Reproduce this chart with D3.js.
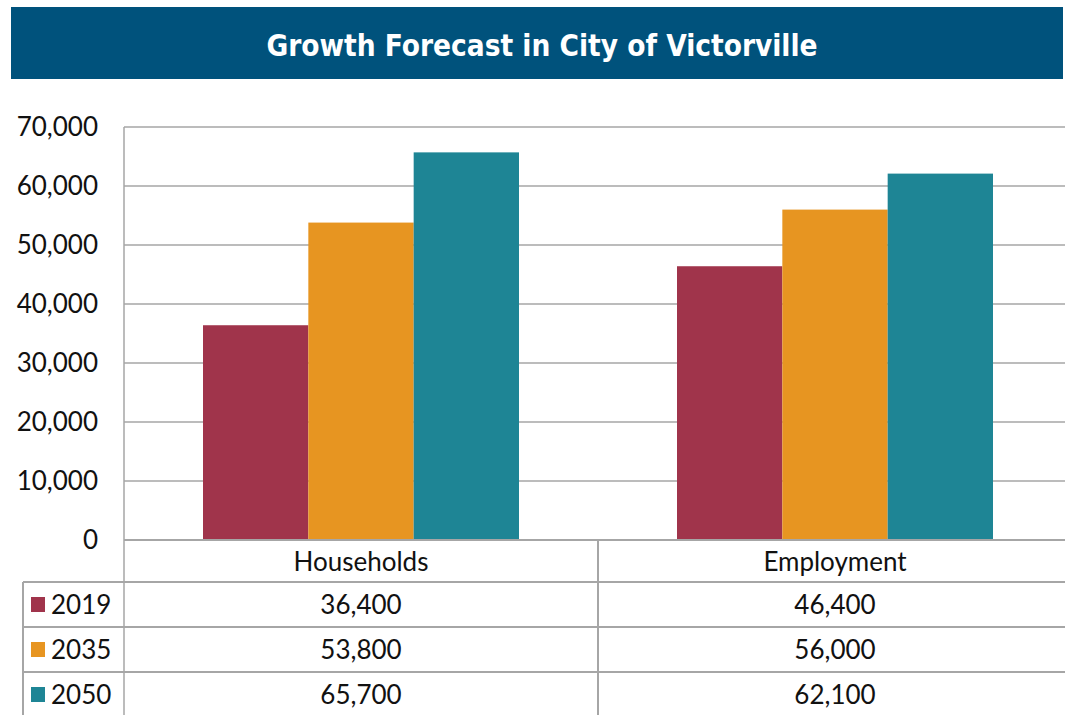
<!DOCTYPE html>
<html>
<head>
<meta charset="utf-8">
<script src="https://cdn.jsdelivr.net/npm/d3@7"></script>
<style>
  body { margin: 0; background: #fff; }
  text { font-family: "Lato", "Open Sans", sans-serif; fill: #111; }
</style>
</head>
<body>
<div id="chart"></div>
<script>
const categories = ['Households', 'Employment']
const years = ['2019', '2035', '2050']
const values2019 = [36400, 46400]
const values2035 = [53800, 56000]
const values2050 = [65700, 62100]
const yTicks = [0, 10000, 20000, 30000, 40000, 50000, 60000, 70000]
const colors = ['#a0344b', '#e79521', '#1e8595']

const series = [values2019, values2035, values2050]

const width = 1065, height = 715
const margin = {left: 124, top: 127, bottom: 175}
const plotBottom = height - margin.bottom   // y = 540
const gridColor = '#a6a6a6'
const fontSize = '26px'

const svg = d3.select('#chart').append('svg')
.attr('width', width)
.attr('height', height)

// title banner
svg.append('rect')
.attr('x', 11).attr('y', 7)
.attr('width', 1052).attr('height', 72)
.attr('fill', '#00527c')

svg.append('text')
.attr('x', 542).attr('y', 56)
.attr('text-anchor', 'middle')
.attr('textLength', 551)
.attr('lengthAdjust', 'spacingAndGlyphs')
.style('font-family', '"DejaVu Sans Condensed", "DejaVu Sans", sans-serif')
.style('font-weight', 'bold')
.style('font-size', '31px')
.style('fill', '#fff')
.text('Growth Forecast in City of Victorville')

// category bands run past the right edge, as in the original
let x0 = d3.scaleBand()
.domain(categories)
.range([margin.left, 1072])

let x1 = d3.scaleBand()
.domain(years)
.range([0, 316])

let yScale = d3.scaleLinear()
.domain([0, 70000])
.range([plotBottom, margin.top])

// gridlines
svg.append('g')
.selectAll('line')
.data(yTicks.slice(1))
.join('line')
.attr('x1', margin.left).attr('x2', width)
.attr('y1', d => yScale(d)).attr('y2', d => yScale(d))
.attr('stroke', gridColor).attr('stroke-width', 1.5)

// y axis line
svg.append('line')
.attr('x1', margin.left).attr('x2', margin.left)
.attr('y1', margin.top).attr('y2', height)
.attr('stroke', gridColor).attr('stroke-width', 1.5)

// y tick labels
svg.append('g')
.selectAll('text')
.data(yTicks)
.join('text')
.attr('x', 98)
.attr('y', d => yScale(d))
.attr('dy', '0.36em')
.attr('text-anchor', 'end')
.style('font-size', fontSize)
.text(d => d3.format(',')(d))

// bars
const groups = svg.append('g')
.selectAll('g')
.data(categories)
.join('g')
.attr('transform', d => `translate(${x0(d) + (x0.bandwidth() - 316) / 2},0)`)

groups.selectAll('rect')
.data((c, ci) => years.map((y, yi) => ({year: y, value: series[yi][ci], i: yi})))
.join('rect')
.attr('x', d => x1(d.year))
.attr('width', x1.bandwidth())
.attr('y', d => yScale(d.value))
.attr('height', d => plotBottom - yScale(d.value))
.attr('fill', d => colors[d.i])

// data table
const rowH = 45
const headerBottom = 582
const table = svg.append('g')

table.append('line')
.attr('x1', margin.left).attr('x2', width)
.attr('y1', plotBottom).attr('y2', plotBottom)
.attr('stroke', gridColor).attr('stroke-width', 2)

categories.slice(1).forEach(c => {
	table.append('line')
	.attr('x1', x0(c)).attr('x2', x0(c))
	.attr('y1', plotBottom).attr('y2', height)
	.attr('stroke', gridColor).attr('stroke-width', 2)
})

years.forEach((y, i) => {
	let top = headerBottom + i * rowH
	table.append('line')
	.attr('x1', 23).attr('x2', width)
	.attr('y1', top).attr('y2', top)
	.attr('stroke', gridColor).attr('stroke-width', 2)
})

table.append('line')
.attr('x1', 23).attr('x2', 23)
.attr('y1', headerBottom).attr('y2', height)
.attr('stroke', gridColor).attr('stroke-width', 2)

table.selectAll('.header')
.data(categories)
.join('text')
.attr('class', 'header')
.attr('x', d => x0(d) + x0.bandwidth() / 2)
.attr('y', 571)
.attr('text-anchor', 'middle')
.style('font-size', fontSize)
.text(d => d)

years.forEach((y, i) => {
	let mid = headerBottom + i * rowH + rowH / 2

	table.append('rect')
	.attr('x', 31).attr('y', mid - 7.5)
	.attr('width', 14).attr('height', 15)
	.attr('fill', colors[i])

	table.append('text')
	.attr('x', 51).attr('y', mid + 9.5)
	.style('font-size', fontSize)
	.text(y)

	categories.forEach((c, ci) => {
		table.append('text')
		.attr('x', x0(c) + x0.bandwidth() / 2)
		.attr('y', mid + 9.5)
		.attr('text-anchor', 'middle')
		.style('font-size', fontSize)
		.text(d3.format(',')(series[i][ci]))
	})
})
</script>
</body>
</html>
